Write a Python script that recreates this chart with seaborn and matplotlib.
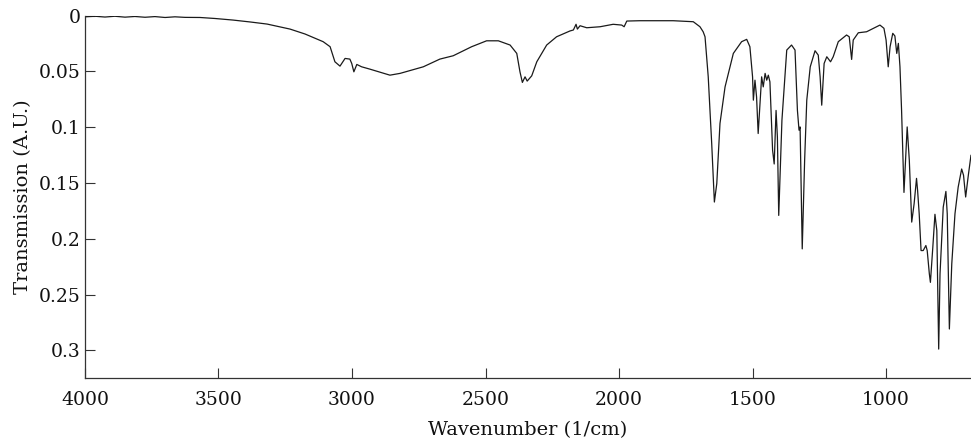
import numpy as np
import pandas as pd
import matplotlib
matplotlib.use("Agg")
import matplotlib.pyplot as plt
import seaborn as sns

# FTIR spectrum: wavenumber (1/cm) and transmission (A.U.)
wavenumber = [
    4000, 3963, 3925, 3888, 3850, 3813, 3775, 3738, 3700, 3663, 3625, 3569,
    3513, 3446, 3382, 3318, 3232, 3176, 3108, 3082, 3064, 3045, 3026, 3008,
    3001, 2993, 2982, 2964, 2933, 2858, 2820, 2733, 2671, 2621, 2552, 2496,
    2452, 2408, 2383, 2371, 2362, 2352, 2344, 2327, 2308, 2271, 2234, 2184,
    2171, 2161, 2156, 2146, 2121, 2071, 2022, 1990, 1981, 1971, 1922, 1797,
    1722, 1697, 1685, 1678, 1666, 1653, 1643, 1634, 1622, 1603, 1572, 1541,
    1522, 1510, 1500, 1497, 1491, 1485, 1479, 1472, 1466, 1460, 1453, 1447,
    1441, 1435, 1425, 1419, 1412, 1407, 1402, 1390, 1372, 1354, 1341, 1332,
    1326, 1322, 1314, 1305, 1297, 1284, 1266, 1254, 1247, 1241, 1232, 1222,
    1208, 1198, 1179, 1148, 1138, 1129, 1123, 1104, 1073, 1023, 1008, 1000,
    992, 985, 975, 967, 960, 954, 948, 942, 933, 921, 913, 904,
    895, 886, 882, 876, 869, 861, 851, 846, 838, 834, 825, 817,
    810, 807, 803, 798, 786, 776, 771, 763, 754, 742, 730, 717,
    710, 702, 692, 682,
]
transmission = [
    0.0010, 0.0005, 0.0012, 0.0005, 0.0013, 0.0007, 0.0014, 0.0008, 0.0016, 0.0010, 0.0015, 0.0016,
    0.0025, 0.0039, 0.0056, 0.0075, 0.0120, 0.0164, 0.0233, 0.0278, 0.0413, 0.0452, 0.0383, 0.0389,
    0.0428, 0.0503, 0.0437, 0.0458, 0.0479, 0.0533, 0.0517, 0.0458, 0.0389, 0.0359, 0.0278, 0.0225,
    0.0225, 0.0263, 0.0338, 0.0503, 0.0598, 0.0548, 0.0586, 0.0539, 0.0413, 0.0263, 0.0189, 0.0137,
    0.0128, 0.0077, 0.0120, 0.0090, 0.0108, 0.0099, 0.0077, 0.0084, 0.0099, 0.0048, 0.0045, 0.0045,
    0.0054, 0.0099, 0.0144, 0.0189, 0.0548, 0.1146, 0.1670, 0.1505, 0.0966, 0.0638, 0.0338, 0.0233,
    0.0212, 0.0278, 0.0548, 0.0757, 0.0578, 0.0728, 0.1056, 0.0784, 0.0548, 0.0638, 0.0517, 0.0578,
    0.0533, 0.0593, 0.1206, 0.1329, 0.0849, 0.1089, 0.1790, 0.0936, 0.0308, 0.0263, 0.0308, 0.0849,
    0.1026, 0.0997, 0.2090, 0.1296, 0.0757, 0.0458, 0.0314, 0.0353, 0.0548, 0.0802, 0.0428, 0.0368,
    0.0413, 0.0368, 0.0233, 0.0173, 0.0189, 0.0392, 0.0218, 0.0153, 0.0144, 0.0084, 0.0113, 0.0218,
    0.0458, 0.0278, 0.0158, 0.0182, 0.0338, 0.0248, 0.0458, 0.0847, 0.1584, 0.0997, 0.1296, 0.1850,
    0.1685, 0.1458, 0.1566, 0.1775, 0.2105, 0.2105, 0.2060, 0.2105, 0.2314, 0.2390, 0.2075, 0.1780,
    0.1925, 0.2374, 0.2988, 0.2314, 0.1716, 0.1575, 0.1775, 0.2808, 0.2224, 0.1775, 0.1536, 0.1374,
    0.1430, 0.1625, 0.1430, 0.1250,
]

x_ticks = [4000, 3500, 3000, 2500, 2000, 1500, 1000]
y_ticks = [0, 0.05, 0.1, 0.15, 0.2, 0.25, 0.3]
y_tick_labels = ["0", "0.05", "0.1", "0.15", "0.2", "0.25", "0.3"]

spectrum = pd.DataFrame({"Wavenumber": wavenumber, "Transmission": transmission})

sns.set_theme(style="ticks")
plt.rcParams["font.family"] = ["DejaVu Serif"]

fig = plt.figure(figsize=(9.71, 4.46), dpi=100)
ax = fig.add_axes([0.0875, 0.1518, 0.9125, 0.813])

sns.lineplot(data=spectrum, x="Wavenumber", y="Transmission", ax=ax,
             sort=False, estimator=None, color="#1a1a1a", linewidth=0.9)

ax.set_xlim(4000, 682)
ax.set_ylim(0.325, 0)
ax.set_xticks(x_ticks)
ax.set_xticklabels([str(t) for t in x_ticks])
ax.set_yticks(y_ticks)
ax.set_yticklabels(y_tick_labels)

ax.tick_params(axis="both", direction="in", length=7, width=0.8,
               color="#333333", labelsize=13.5, labelcolor="#111111")
ax.tick_params(axis="x", pad=9)
ax.tick_params(axis="y", pad=3)

for side in ("top", "right"):
    ax.spines[side].set_visible(False)
for side in ("left", "bottom"):
    ax.spines[side].set_color("#333333")
    ax.spines[side].set_linewidth(0.9)

ax.set_xlabel("Wavenumber (1/cm)", fontsize=14, color="#111111", labelpad=9)
ax.set_ylabel("Transmission (A.U.)", fontsize=14, color="#111111", labelpad=5)

fig.savefig("out.png", dpi=100)
